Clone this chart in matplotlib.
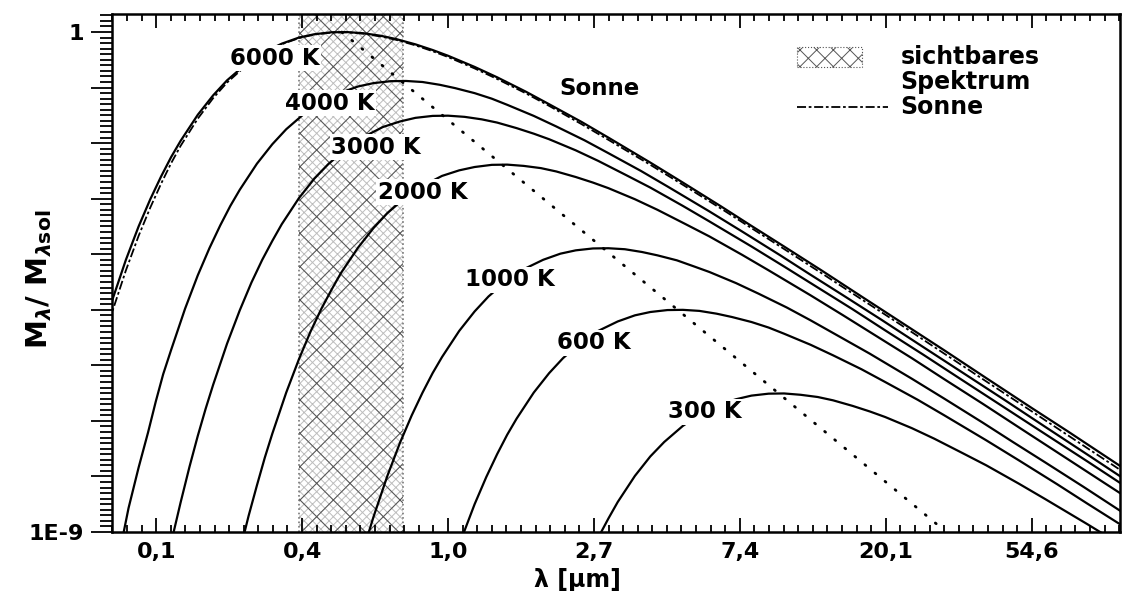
import numpy as np
import matplotlib
matplotlib.use("Agg")
import matplotlib.pyplot as plt
from matplotlib.patches import Rectangle
from matplotlib.lines import Line2D

# ===================================================================
# Data (wavelength in um, log10 of M_lambda / M_lambda,sol)
# ===================================================================
lam_6000 = [0.095, 0.1, 0.11, 0.12, 0.13, 0.14, 0.15, 0.16, 0.18, 0.2, 0.22, 0.25, 0.28, 0.32, 0.36,
            0.4, 0.45, 0.5, 0.56, 0.63, 0.7, 0.8, 0.9, 1.0, 1.2, 1.4, 1.7, 2.0, 2.5, 3.0, 4.0, 5.0,
            6.5, 8.0, 10, 13, 17, 22, 30, 40, 55, 70, 100]
lg_6000 = [-5.28, -4.84, -4.10, -3.50, -3.01, -2.60, -2.25, -1.96, -1.49, -1.14, -0.87, -0.58, -0.38,
           -0.21, -0.10, -0.04, -0.005, -0.001, -0.022, -0.067, -0.126, -0.222, -0.324, -0.427, -0.628,
           -0.815, -1.07, -1.30, -1.62, -1.90, -2.35, -2.71, -3.14, -3.49, -3.86, -4.30, -4.76, -5.20,
           -5.73, -6.23, -6.78, -7.19, -7.81]

# Sonne (same wavelengths as 6000 K)
lg_sun = [-5.52, -5.05, -4.29, -3.67, -3.16, -2.73, -2.36, -2.05, -1.56, -1.19, -0.91, -0.61, -0.40,
          -0.22, -0.11, -0.045, -0.01, -0.005, -0.03, -0.08, -0.14, -0.24, -0.345, -0.45, -0.655,
          -0.845, -1.10, -1.33, -1.66, -1.94, -2.39, -2.75, -3.18, -3.53, -3.905, -4.35, -4.81, -5.25,
          -5.79, -6.29, -6.84, -7.26, -7.88]

lam_4000 = [0.105, 0.112, 0.12, 0.128, 0.135, 0.142, 0.15, 0.165, 0.18, 0.195, 0.21, 0.225, 0.24, 0.27,
            0.30, 0.33, 0.375, 0.42, 0.48, 0.54, 0.60, 0.675, 0.75, 0.84, 0.945, 1.05, 1.2, 1.35, 1.5,
            1.8, 2.1, 2.55, 3.0, 3.75, 4.5, 6.0, 7.5, 9.75, 12, 15, 19.5, 25.5, 33, 45, 60, 82.5, 105]
lg_4000 = [-9.41, -8.57, -7.84, -7.21, -6.65, -6.16, -5.72, -4.98, -4.38, -3.89, -3.48, -3.13, -2.84,
           -2.37, -2.02, -1.75, -1.46, -1.26, -1.09, -0.98, -0.92, -0.885, -0.881, -0.90, -0.95, -1.01,
           -1.10, -1.20, -1.31, -1.51, -1.70, -1.95, -2.18, -2.50, -2.78, -3.23, -3.59, -4.02, -4.37,
           -4.74, -5.18, -5.64, -6.08, -6.61, -7.11, -7.66, -8.08]

lam_3000 = [0.15, 0.16, 0.17, 0.18, 0.19, 0.2, 0.22, 0.24, 0.26, 0.28, 0.30, 0.32, 0.36, 0.40, 0.44,
            0.50, 0.56, 0.64, 0.72, 0.80, 0.90, 1.0, 1.12, 1.26, 1.4, 1.6, 1.8, 2.0, 2.4, 2.8, 3.4, 4.0,
            5.0, 6.0, 8.0, 10, 13, 16, 20, 26, 34, 44, 60, 80, 110]
lg_3000 = [-9.19, -8.47, -7.83, -7.27, -6.78, -6.35, -5.61, -5.01, -4.51, -4.10, -3.76, -3.46, -2.99,
           -2.64, -2.38, -2.09, -1.89, -1.71, -1.61, -1.545, -1.51, -1.506, -1.527, -1.572, -1.63, -1.73,
           -1.83, -1.93, -2.13, -2.32, -2.58, -2.80, -3.13, -3.41, -3.86, -4.22, -4.65, -4.99, -5.37,
           -5.81, -6.27, -6.71, -7.24, -7.73, -8.28]

lam_2000 = [0.24, 0.255, 0.27, 0.285, 0.30, 0.33, 0.36, 0.39, 0.42, 0.45, 0.48, 0.54, 0.60, 0.66, 0.75,
            0.84, 0.96, 1.08, 1.2, 1.35, 1.5, 1.68, 1.89, 2.1, 2.4, 2.7, 3.0, 3.6, 4.2, 5.1, 6.0, 7.5,
            9.0, 12, 15, 19.5, 24, 30, 39, 51, 66, 90, 120]
lg_2000 = [-9.35, -8.71, -8.16, -7.66, -7.23, -6.49, -5.89, -5.39, -4.98, -4.64, -4.34, -3.88, -3.53,
           -3.26, -2.97, -2.77, -2.59, -2.49, -2.43, -2.391, -2.387, -2.41, -2.45, -2.51, -2.61, -2.71,
           -2.81, -3.01, -3.20, -3.46, -3.68, -4.01, -4.29, -4.74, -5.10, -5.53, -5.87, -6.25, -6.69,
           -7.15, -7.59, -8.12, -8.61]

lam_1000 = [0.57, 0.6, 0.66, 0.72, 0.78, 0.84, 0.90, 0.96, 1.08, 1.2, 1.32, 1.5, 1.68, 1.92, 2.16, 2.4,
            2.7, 3.0, 3.36, 3.78, 4.2, 4.8, 5.4, 6.0, 7.2, 8.4, 10.2, 12, 15, 18, 24, 30, 39, 48, 60,
            78, 102]
lg_1000 = [-9.17, -8.73, -7.99, -7.39, -6.90, -6.49, -6.14, -5.85, -5.38, -5.03, -4.76, -4.47, -4.27,
           -4.10, -3.99, -3.93, -3.896, -3.892, -3.91, -3.96, -4.02, -4.11, -4.22, -4.32, -4.52, -4.71,
           -4.96, -5.19, -5.52, -5.79, -6.24, -6.60, -7.03, -7.38, -7.75, -8.19, -8.65]

lam_600 = [1.1, 1.2, 1.3, 1.4, 1.5, 1.6, 1.8, 2.0, 2.2, 2.5, 2.8, 3.2, 3.6, 4.0, 4.5, 5.0, 5.6, 6.3,
           7.0, 8.0, 9.0, 10, 12, 14, 17, 20, 25, 30, 40, 50, 65, 80, 100]
lg_600 = [-9.10, -8.50, -8.01, -7.60, -7.25, -6.96, -6.49, -6.14, -5.87, -5.58, -5.38, -5.21, -5.10,
          -5.04, -5.005, -5.001, -5.02, -5.07, -5.13, -5.22, -5.32, -5.43, -5.63, -5.82, -6.07, -6.30,
          -6.62, -6.90, -7.35, -7.71, -8.14, -8.49, -8.86]

lam_300 = [2.8, 3.0, 3.2, 3.6, 4.0, 4.4, 5.0, 5.6, 6.4, 7.2, 8.0, 9.0, 10, 11.2, 12.6, 14, 16, 18, 20,
           24, 28, 34, 40, 50, 60, 80, 100]
lg_300 = [-9.10, -8.76, -8.46, -7.99, -7.64, -7.38, -7.09, -6.89, -6.71, -6.61, -6.545, -6.51, -6.506,
          -6.53, -6.57, -6.63, -6.73, -6.83, -6.93, -7.13, -7.32, -7.58, -7.80, -8.13, -8.41, -8.86,
          -9.22]

# Wien displacement line (dotted), visible range
wien_lam = [0.483, 28.5]
wien_lg = [0.0, -8.86]
visible = [0.36, 0.735]

curve_labels = ["6000 K", "4000 K", "3000 K", "2000 K", "1000 K", "600 K", "300 K"]
xtick_labels = ["0,1", "0,4", "1,0", "2,7", "7,4", "20,1", "54,6"]

# ===================================================================
# Plot
# ===================================================================
plt.rcParams["font.family"] = "DejaVu Sans"
plt.rcParams["font.weight"] = "bold"
plt.rcParams["hatch.linewidth"] = 0.7

fig = plt.figure(figsize=(11.23, 5.91), dpi=100)
ax = fig.add_axes([112 / 1123, 59 / 591, 1008 / 1123, 518 / 591])

# visible spectrum band
ax.axvspan(visible[0], visible[1], facecolor="none", edgecolor="#bdbdbd", hatch="xxxx", lw=0, zorder=1)
ax.axvspan(visible[0], visible[1], facecolor="none", edgecolor="#555555", hatch="x", lw=0, zorder=1)
for v in visible:
    ax.axvline(v, color="#777777", ls=":", lw=1.2, zorder=1)

curves = [(lam_6000, lg_6000), (lam_4000, lg_4000), (lam_3000, lg_3000), (lam_2000, lg_2000),
          (lam_1000, lg_1000), (lam_600, lg_600), (lam_300, lg_300)]
for lam, lg in curves:
    ax.plot(lam, 10.0 ** np.array(lg), color="black", lw=1.6, zorder=3)

ax.plot(lam_6000, 10.0 ** np.array(lg_sun), color="black", lw=1.3,
        ls=(0, (5, 1.5, 1.5, 1.5)), zorder=3)
ax.plot(wien_lam, 10.0 ** np.array(wien_lg), color="black", lw=2.0,
        ls=(0, (0.4, 4.3)), dash_capstyle="round", zorder=3)

ax.set_xscale("log")
ax.set_yscale("log")
ax.set_xlim(0.1, 100)
ax.set_ylim(1e-9, 2.11)

# ticks: major at e^-2 .. e^4, minor every 0.1 in ln
ax.set_xticks(np.exp(np.arange(-2, 5)), xtick_labels)
ax.set_xticks(np.exp(np.arange(-23, 47) / 10), minor=True)
ax.set_xticklabels([], minor=True)
ax.set_yticks(10.0 ** np.arange(-9, 1), ["1E-9"] + [""] * 8 + ["1"])
ax.set_yticks(10.0 ** (np.arange(-90, 4) / 10), minor=True)
ax.set_yticklabels([], minor=True)

ax.tick_params(axis="x", which="both", direction="in", top=True, bottom=True, width=1.3,
               labelsize=16, pad=7)
ax.tick_params(axis="x", which="major", length=10)
ax.tick_params(axis="x", which="minor", length=5)
ax.tick_params(axis="y", which="both", direction="out", left=True, right=False, width=1.3,
               labelsize=16, pad=5)
ax.tick_params(axis="y", which="major", length=15)
ax.tick_params(axis="y", which="minor", length=9)
for s in ax.spines.values():
    s.set_linewidth(1.8)

ax.set_xlabel("λ [µm]", fontsize=17, fontweight="bold")
ax.xaxis.set_label_coords(0.462, -0.07)
ax.set_ylabel(r"M$_\lambda$/ M$_{\lambda\mathrm{sol}}$", fontsize=21, fontweight="bold")
ax.yaxis.set_label_coords(-0.058, 0.487)

# curve labels
label_pos = [(0.162, 0.915), (0.216, 0.828), (0.262, 0.743), (0.308, 0.656),
             (0.395, 0.487), (0.478, 0.365), (0.588, 0.232)]
box = dict(facecolor="white", edgecolor="none", pad=1.0)
for txt, (px, py) in zip(curve_labels, label_pos):
    ax.text(px, py, txt, transform=ax.transAxes, fontsize=16.5, fontweight="bold",
            ha="center", va="center", bbox=box, zorder=5)
ax.text(0.484, 0.857, "Sonne", transform=ax.transAxes, fontsize=16.5, fontweight="bold",
        ha="center", va="center", zorder=5)

# legend drawn by hand
ax.add_patch(Rectangle((0.680, 0.898), 0.064, 0.038, transform=ax.transAxes, facecolor="none",
                       edgecolor="#555555", hatch="xx", lw=0.8, ls=":", zorder=4))
ax.text(0.782, 0.917, "sichtbares", transform=ax.transAxes, fontsize=17, fontweight="bold",
        ha="left", va="center")
ax.text(0.782, 0.869, "Spektrum", transform=ax.transAxes, fontsize=17, fontweight="bold",
        ha="left", va="center")
ax.add_line(Line2D([0.680, 0.770], [0.820, 0.820], transform=ax.transAxes, color="black",
                   lw=1.3, ls=(0, (5, 1.5, 1.5, 1.5))))
ax.text(0.782, 0.820, "Sonne", transform=ax.transAxes, fontsize=17, fontweight="bold",
        ha="left", va="center")

fig.savefig("out.png", dpi=100)
